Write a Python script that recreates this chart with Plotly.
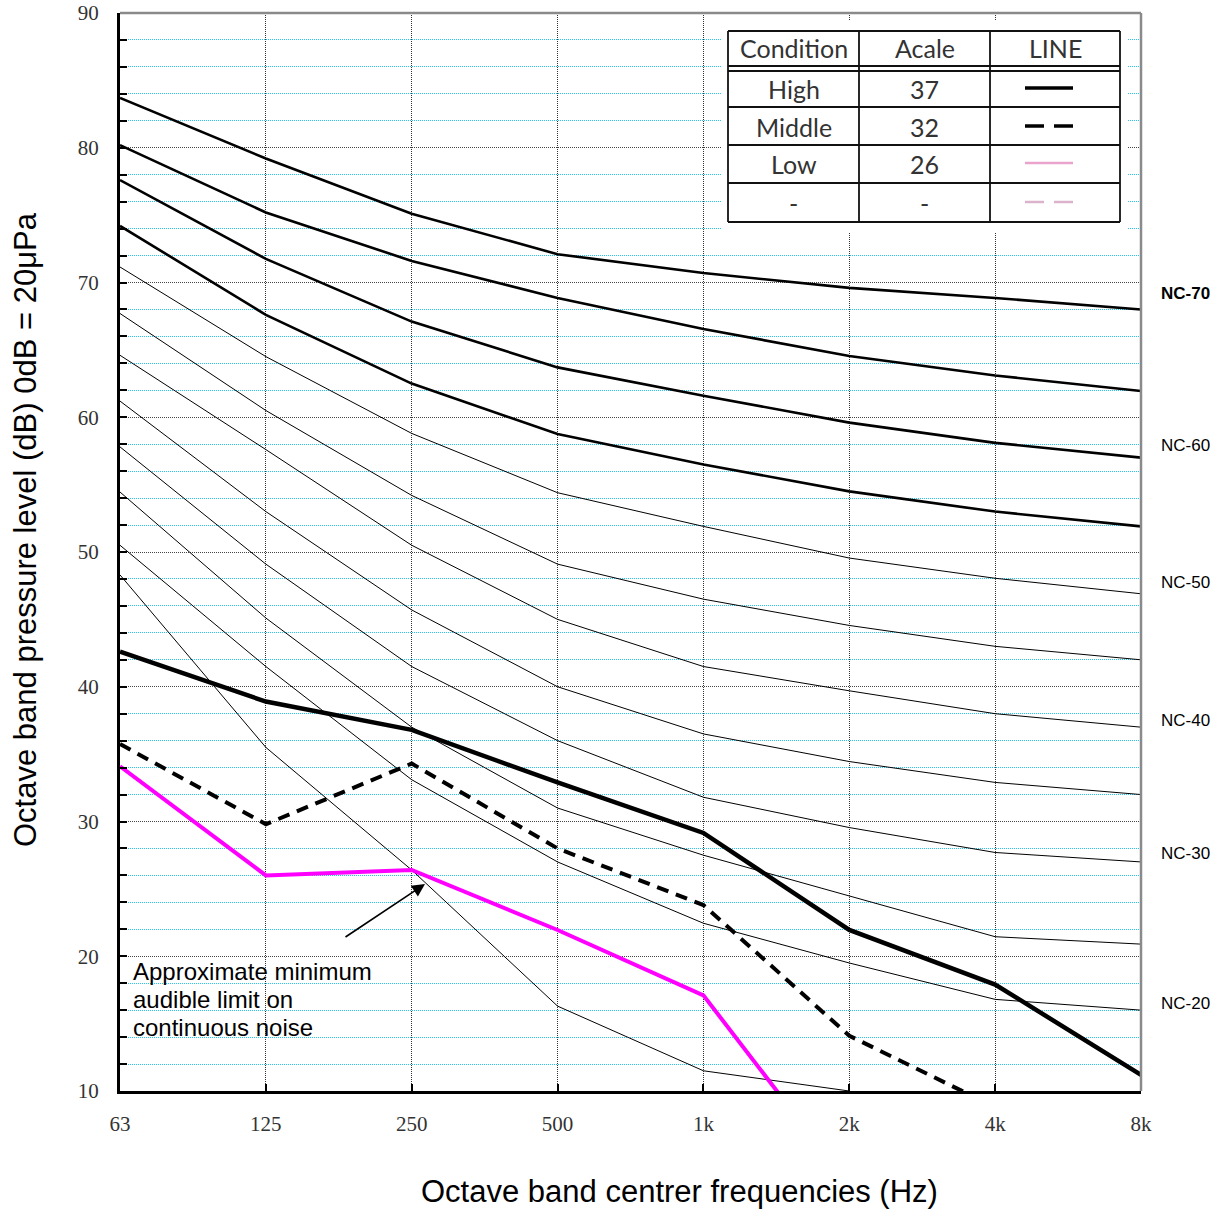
import plotly.graph_objects as go

# ---------------- data ----------------
freq_labels = ["63", "125", "250", "500", "1k", "2k", "4k", "8k"]

nc_names = ["NC-70", "NC-65", "NC-60", "NC-55", "NC-50", "NC-45",
            "NC-40", "NC-35", "NC-30", "NC-25", "NC-20", "NC-15"]
nc70 = [83.7, 79.2, 75.1, 72.1, 70.7, 69.6, 68.85, 68.0]
nc65 = [80.2, 75.2, 71.6, 68.85, 66.55, 64.55, 63.1, 61.95]
nc60 = [77.6, 71.75, 67.1, 63.7, 61.6, 59.6, 58.1, 57.0]
nc55 = [74.2, 67.6, 62.5, 58.75, 56.5, 54.5, 53.0, 51.9]
nc50 = [71.15, 64.5, 58.8, 54.4, 51.9, 49.55, 48.05, 46.9]
nc45 = [67.7, 60.5, 54.2, 49.1, 46.5, 44.55, 43.0, 42.0]
nc40 = [64.6, 57.6, 50.5, 45.0, 41.5, 39.7, 38.0, 37.0]
nc35 = [61.2, 53.0, 45.7, 40.0, 36.5, 34.45, 32.9, 32.0]
nc30 = [57.8, 49.1, 41.5, 36.0, 31.8, 29.55, 27.7, 27.0]
nc25 = [54.45, 45.1, 37.0, 31.0, 27.5, 24.5, 21.45, 20.9]
nc20 = [50.5, 41.5, 33.1, 27.0, 22.45, 19.5, 16.8, 16.0]
nc15 = [48.3, 35.5, 26.4, 16.3, 11.5, 10.0, None, None]
nc_curves = [nc70, nc65, nc60, nc55, nc50, nc45, nc40, nc35, nc30, nc25, nc20, nc15]
nc_thick = ["NC-70", "NC-65", "NC-60", "NC-55"]

high = [42.6, 38.9, 36.8, 32.9, 29.15, 21.95, 17.9, 11.2]
middle = [35.75, 29.8, 34.3, 28.0, 23.8, 14.1, 8.8]
low = [34.1, 26.0, 26.4, 21.95, 17.1, 3.0]

nc_label_text = ["NC-70", "NC-60", "NC-50", "NC-40", "NC-30", "NC-20"]
nc_label_y = [69.2, 57.9, 47.7, 37.5, 27.6, 16.5]

table_header = ["Condition", "Acale", "LINE"]
table_conditions = ["High", "Middle", "Low", "-"]
table_acale = ["37", "32", "26", "-"]

note_lines = ["Approximate minimum", "audible limit on", "continuous noise"]

x_idx = list(range(len(freq_labels)))

# ---------------- geometry (page pixels) ----------------
W, H = 1218, 1211
PL, PR, PT, PB = 120, 1141, 13, 1091
def px(xp):
    return (xp - PL) / (PR - PL)
def py(yp):
    return (PB - yp) / (PB - PT)

fig = go.Figure()

for name, vals in zip(nc_names, nc_curves):
    fig.add_trace(go.Scatter(
        x=x_idx[:len(vals)], y=vals, mode="lines", name=name,
        line=dict(color="black", width=2.6 if name in nc_thick else 1.0),
        showlegend=False, hoverinfo="skip"))

fig.add_trace(go.Scatter(x=x_idx[:len(low)], y=low, mode="lines", name="Low",
                         line=dict(color="#ff00ff", width=4), showlegend=False))
fig.add_trace(go.Scatter(x=x_idx[:len(middle)], y=middle, mode="lines", name="Middle",
                         line=dict(color="black", width=4, dash="12px,8px"), showlegend=False))
fig.add_trace(go.Scatter(x=x_idx[:len(high)], y=high, mode="lines", name="High",
                         line=dict(color="black", width=4.5), showlegend=False))

shapes = []
annotations = []

# top & right grey borders
shapes.append(dict(type="line", xref="paper", yref="paper", x0=0, x1=1, y0=1, y1=1,
                   line=dict(color="#8a8a8a", width=2.5), layer="above"))
shapes.append(dict(type="line", xref="paper", yref="paper", x0=1, x1=1, y0=0, y1=1,
                   line=dict(color="#8a8a8a", width=2.5), layer="above"))

# white box behind the annotation text
shapes.append(dict(type="rect", xref="paper", yref="paper",
                   x0=px(126), x1=px(420), y0=py(1067), y1=py(951),
                   fillcolor="white", line=dict(width=0), layer="between"))

# ---------------- legend table ----------------
shapes.append(dict(type="rect", xref="paper", yref="paper",
                   x0=px(721), x1=px(1128), y0=py(233), y1=py(21),
                   fillcolor="white", line=dict(width=0), layer="above"))
tl, tr = 728, 1120
row_lines = [31, 66, 71, 107, 145, 183, 222]
col_lines = [728, 859, 990, 1120]
for ry in row_lines:
    shapes.append(dict(type="line", xref="paper", yref="paper",
                       x0=px(tl), x1=px(tr), y0=py(ry), y1=py(ry),
                       line=dict(color="#111", width=1.8), layer="above"))
for cx in col_lines:
    shapes.append(dict(type="line", xref="paper", yref="paper",
                       x0=px(cx), x1=px(cx), y0=py(222), y1=py(31),
                       line=dict(color="#111", width=1.8), layer="above"))

col_centers = [793.5, 924.5, 1055]
row_centers = [48, 89, 127, 164, 203]
tfont = dict(family="Lato, Open Sans, sans-serif", size=25, color="#333")
def cell(x, y, t):
    annotations.append(dict(xref="paper", yref="paper", x=px(x), y=py(y),
                            xanchor="center", yanchor="middle",
                            text=t, showarrow=False, font=tfont))
for c, t in zip(col_centers, table_header):
    cell(c, row_centers[0], t)
for i, (cond, ac) in enumerate(zip(table_conditions, table_acale)):
    cell(col_centers[0], row_centers[i + 1], cond)
    cell(col_centers[1], row_centers[i + 1], ac)

sample_styles = [
    dict(color="black", width=3.5, dash="solid"),
    dict(color="black", width=3.5, dash="19px,10px"),
    dict(color="#e9a3cc", width=2.5, dash="solid"),
    dict(color="#dcb3cc", width=2.5, dash="19px,10px"),
]
for i, st in enumerate(sample_styles):
    yy = py(row_centers[i + 1] - 1)
    shapes.append(dict(type="line", xref="paper", yref="paper",
                       x0=px(1025), x1=px(1073), y0=yy, y1=yy, line=st, layer="above"))

# ---------------- NC labels on right ----------------
for t, yv in zip(nc_label_text, nc_label_y):
    annotations.append(dict(xref="paper", yref="y", x=px(1185), y=yv,
                            xanchor="center", yanchor="middle",
                            text=("<b>%s</b>" % t) if t == "NC-70" else t,
                            showarrow=False,
                            font=dict(family="Arial, Liberation Sans, sans-serif", size=17, color="black")))

# ---------------- text + arrow ----------------
for i, t in enumerate(note_lines):
    annotations.append(dict(xref="paper", yref="paper", x=px(131), y=py(971 + 28 * i),
                            xanchor="left", yanchor="middle", align="left",
                            text=t, showarrow=False,
                            font=dict(family="Arial, Liberation Sans, sans-serif", size=24, color="black")))
annotations.append(dict(xref="x", yref="y", axref="x", ayref="y",
                        x=(425 - PL) / ((PR - PL) / 7), y=90 - (884 - PT) / ((PB - PT) / 80),
                        ax=(344 - PL) / ((PR - PL) / 7), ay=90 - (938 - PT) / ((PB - PT) / 80),
                        text="", showarrow=True, arrowhead=2, arrowsize=1.6, arrowwidth=1.6,
                        arrowcolor="black"))

# ---------------- axis titles ----------------
annotations.append(dict(xref="paper", yref="paper", x=px(25), y=py(530),
                        xanchor="center", yanchor="middle",
                        text="Octave band pressure level (dB) 0dB = 20μPa", textangle=-90,
                        showarrow=False,
                        font=dict(family="Arial, Liberation Sans, sans-serif", size=31, color="black")))
annotations.append(dict(xref="paper", yref="paper", x=px(679), y=py(1191),
                        xanchor="center", yanchor="middle",
                        text="Octave band centrer frequencies (Hz)",
                        showarrow=False,
                        font=dict(family="Arial, Liberation Sans, sans-serif", size=31, color="black")))

tickfont = dict(family="Liberation Serif, Times New Roman, serif", size=21, color="#333")

fig.update_layout(
    width=W, height=H,
    margin=dict(l=PL, r=W - PR, t=PT, b=H - PB, autoexpand=False),
    paper_bgcolor="white", plot_bgcolor="white",
    shapes=shapes, annotations=annotations,
    xaxis=dict(range=[0, 7], tickmode="array", tickvals=x_idx, ticktext=freq_labels,
               showgrid=True, gridcolor="#333", griddash="1px,1px", gridwidth=1,
               showline=True, linecolor="black", linewidth=3, automargin=False,
               ticks="inside", ticklen=7, tickwidth=2, tickcolor="black",
               tickfont=tickfont, ticklabelstandoff=12, ticklabeloverflow="allow",
               zeroline=False),
    yaxis=dict(range=[10, 90], tick0=10, dtick=10,
               showgrid=True, gridcolor="#444", griddash="1px,1px", gridwidth=1,
               showline=True, linecolor="black", linewidth=3, automargin=False,
               ticks="inside", ticklen=7, tickwidth=2, tickcolor="black",
               tickfont=tickfont, ticklabelstandoff=14, ticklabeloverflow="allow",
               zeroline=False,
               minor=dict(dtick=2, tick0=10, showgrid=True, gridcolor="#22c8f0",
                          griddash="1px,1px", gridwidth=1, ticks="inside", ticklen=7,
                          tickwidth=2, tickcolor="black")),
)

# remove the browser's default 8px page margin so the figure fills the window exactly
fig.write_html("out.html", config={"displayModeBar": False},
               post_script="document.body.style.margin='0px';")
